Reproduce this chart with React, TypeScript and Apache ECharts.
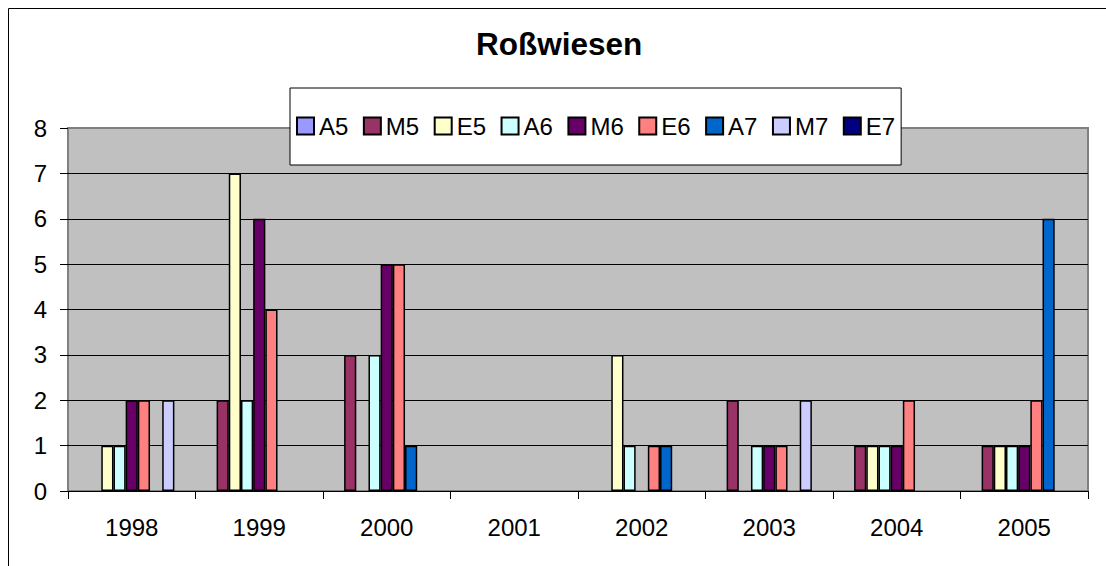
import React, { useEffect, useRef } from "react";
import * as echarts from "echarts";

const years = ["1998", "1999", "2000", "2001", "2002", "2003", "2004", "2005"];
const seriesNames = ["A5", "M5", "E5", "A6", "M6", "E6", "A7", "M7", "E7"];
const colors = ["#9999FF", "#993366", "#FFFFCC", "#CCFFFF", "#660066", "#FF8080", "#0066CC", "#CCCCFF", "#000080"];

const A5 = [0, 0, 0, 0, 0, 0, 0, 0];
const M5 = [0, 2, 3, 0, 0, 2, 1, 1];
const E5 = [1, 7, 0, 0, 3, 0, 1, 1];
const A6 = [1, 2, 3, 0, 1, 1, 1, 1];
const M6 = [2, 6, 5, 0, 0, 1, 1, 1];
const E6 = [2, 4, 5, 0, 1, 1, 2, 2];
const A7 = [0, 0, 1, 0, 1, 0, 0, 6];
const M7 = [2, 0, 0, 0, 0, 2, 0, 0];
const E7 = [0, 0, 0, 0, 0, 0, 0, 0];
const values = [A5, M5, E5, A6, M6, E6, A7, M7, E7];

const yTicks = [0, 1, 2, 3, 4, 5, 6, 7, 8];

const FONT = 'Arial, "Liberation Sans", sans-serif';

export default function App() {
  const ref = useRef<HTMLDivElement>(null);
  useEffect(() => {
    if (!ref.current) return;
    const chart = echarts.init(ref.current, null, { renderer: "svg" });
    chart.setOption({
      animation: false,
      backgroundColor: "#ffffff",
      title: {
        text: "Roßwiesen",
        left: 476,
        top: 28,
        padding: 0,
        textStyle: { fontFamily: FONT, fontSize: 31.5, fontWeight: "bold", color: "#000" },
      },
      legend: {
        data: seriesNames,
        left: 290,
        top: 88,
        orient: "horizontal",
        backgroundColor: "#ffffff",
        borderColor: "#000000",
        borderWidth: 1,
        padding: [26, 6, 27, 6],
        itemWidth: 17,
        itemHeight: 17,
        itemGap: 14.5,
        icon: "rect",
        textStyle: { fontFamily: FONT, fontSize: 24, color: "#000" },
      },
      graphic: [
        {
          type: "rect",
          shape: { x: 8.5, y: 8.5, width: 1200, height: 700 },
          style: { fill: "none", stroke: "#000", lineWidth: 1 },
          silent: true,
          z: -1,
        },
      ],
      grid: {
        left: 68,
        right: 18,
        top: 128,
        bottom: 75,
        show: true,
        backgroundColor: "#C0C0C0",
        borderColor: "#808080",
        borderWidth: 2,
      },
      xAxis: {
        type: "category",
        data: years,
        axisLine: { lineStyle: { color: "#000", width: 1 } },
        axisTick: { show: true, length: 8, inside: false, lineStyle: { color: "#000" } },
        axisLabel: { fontFamily: FONT, fontSize: 24, color: "#000", margin: 24 },
      },
      yAxis: {
        type: "value",
        min: yTicks[0],
        max: yTicks[yTicks.length - 1],
        interval: 1,
        axisLine: { show: false },
        axisTick: { show: true, length: 8, lineStyle: { color: "#000" } },
        axisLabel: { fontFamily: FONT, fontSize: 24, color: "#000", margin: 21 },
        splitLine: {
          show: true,
          lineStyle: { color: ["#000", "#000", "#000", "#000", "#000", "#000", "#000", "#000", "#808080"], width: 1 },
        },
      },
      series: seriesNames.map((name, i) => ({
        name,
        type: "bar",
        data: values[i].map((v) => (v === 0 ? "-" : v)),
        barGap: "0%",
        barCategoryGap: "14%",
        itemStyle: { color: colors[i], borderColor: "#000", borderWidth: 1.5 },
      })),
    });
    return () => chart.dispose();
  }, []);
  return <div ref={ref} style={{ position: "fixed", left: 0, top: 0, width: 1106, height: 566 }} />;
}
